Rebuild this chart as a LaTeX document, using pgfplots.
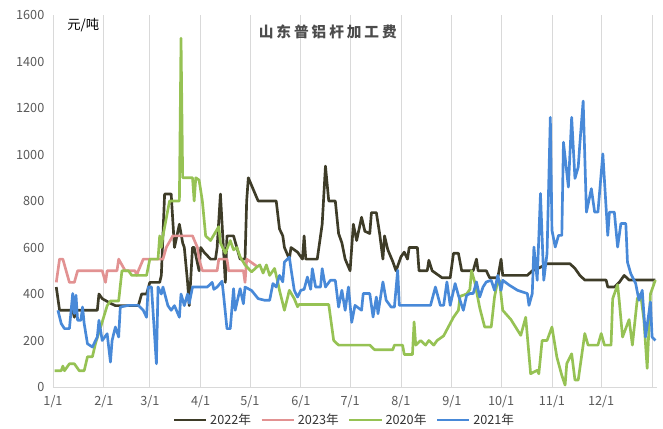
\documentclass[border=0pt]{standalone}
\usepackage{pgfplots}
\pgfplotsset{compat=1.18}
\usepackage{fontspec}
\setmainfont{Noto Sans CJK SC}
\newfontfamily\titlefont[LetterSpace=20]{Noto Sans CJK SC}
\definecolor{c22}{RGB}{62,60,40}
\definecolor{c23}{RGB}{226,146,146}
\definecolor{c20}{RGB}{150,194,84}
\definecolor{c21}{RGB}{72,137,216}
\definecolor{tickc}{RGB}{89,89,89}
\definecolor{gridc}{RGB}{217,217,217}
\begin{document}
\begin{tikzpicture}
\begin{axis}[
  at={(0,0)}, anchor=south west,
  scale only axis, width=453pt, height=279pt,
  xmin=0, xmax=368, ymin=0, ymax=1600,
  xtick={0,31,59,90,120,151,181,212,243,273,304,334},
  xticklabels={1/1,2/1,3/1,4/1,5/1,6/1,7/1,8/1,9/1,10/1,11/1,12/1},
  extra x ticks={365}, extra x tick labels={},
  extra x tick style={grid=major},
  ytick={0,200,...,1600},
  /pgf/number format/assume math mode=true,
  /pgf/number format/1000 sep={},
  xmajorgrids, major grid style={draw=gridc, line width=0.6pt},
  axis x line*=bottom, axis y line*=left,
  axis line style={-, draw=gridc, line width=0.6pt},
  tick style={draw=none},
  ticklabel style={font=\fontsize{9.5}{11}\selectfont, text=tickc},
  yticklabel style={xshift=-3pt},
  xticklabel style={yshift=-3pt},
  legend columns=4,
  legend style={at={(rel axis cs:0.483,-0.089)}, anchor=center, draw=none, fill=none,
    font=\fontsize{9.5}{11}\selectfont, text=black!80,
    /tikz/every even column/.append style={column sep=5pt}},
  legend image code/.code={\draw[#1, line width=2pt] (0cm,0cm) -- (0.85cm,0cm);},
  every axis plot/.append style={line width=2pt, line join=round},
  clip=false,
]
\addplot[c22] coordinates {(2,430)(4,330)(12,330)(13,300)(14,330)(27,330)(28,400)(30,380)(35,360)(38,350)(52,350)(54,400)(57,400)(59,450)(65,450)(66,480)(68,830)(72,830)(74,600)(77,700)(79,620)(80,600)(82,450)(83,350)(85,600)(86,600)(89,500)(90,600)(92,580)(96,550)(99,550)(100,600)(102,830)(105,450)(106,650)(110,650)(114,550)(117,550)(118,800)(119,900)(125,800)(136,800)(138,680)(140,650)(141,600)(144,550)(145,600)(149,580)(152,550)(153,650)(154,550)(161,550)(164,700)(166,950)(168,800)(172,800)(174,660)(176,620)(178,550)(181,500)(183,700)(185,630)(188,730)(190,670)(193,660)(194,750)(197,750)(199,660)(201,550)(202,650)(204,590)(207,540)(209,500)(212,560)(214,580)(216,550)(217,600)(222,600)(223,500)(228,500)(229,545)(231,500)(237,470)(242,470)(244,575)(247,575)(249,500)(256,500)(258,550)(259,500)(264,500)(266,470)(271,470)(273,550)(274,480)(289,480)(292,500)(297,515)(301,530)(315,530)(318,510)(321,480)(324,460)(337,460)(338,430)(342,430)(345,450)(348,480)(351,460)(367,460)};
\addlegendentry{2022年}
\addplot[c23] coordinates {(2,450)(4,550)(6,550)(8,500)(10,450)(13,450)(15,500)(30,500)(32,450)(33,500)(39,500)(40,550)(44,500)(50,500)(51,480)(52,500)(55,550)(67,550)(69,600)(73,650)(85,650)(88,600)(89,550)(91,500)(100,500)(101,550)(106,550)(107,500)(116,500)(117,450)(118,550)(124,520)};
\addlegendentry{2023年}
\addplot[c20] coordinates {(1,70)(5,70)(6,90)(7,70)(10,100)(13,100)(16,70)(19,70)(21,130)(24,130)(26,190)(30,280)(33,350)(35,370)(40,370)(42,500)(46,500)(48,480)(57,480)(59,550)(64,550)(65,650)(66,600)(67,650)(71,800)(77,800)(78,1500)(79,900)(85,900)(86,800)(87,900)(89,890)(91,800)(93,650)(96,630)(101,690)(102,620)(105,575)(108,630)(110,590)(112,600)(114,560)(117,525)(121,495)(124,515)(126,525)(128,490)(130,525)(132,480)(135,510)(137,450)(138,416)(141,330)(144,416)(147,380)(149,345)(150,355)(168,355)(171,200)(174,180)(193,180)(196,160)(207,160)(208,180)(213,180)(214,140)(219,140)(220,280)(221,180)(224,200)(227,180)(229,200)(232,180)(234,200)(238,220)(244,300)(247,330)(248,390)(252,400)(254,420)(255,500)(257,450)(260,340)(263,258)(267,258)(269,387)(271,459)(272,459)(274,330)(279,290)(285,222)(288,300)(291,57)(295,72)(296,57)(298,200)(301,200)(304,258)(307,128)(310,50)(312,8)(313,100)(316,143)(318,30)(320,30)(324,230)(326,180)(332,180)(334,230)(336,180)(340,180)(341,380)(344,440)(345,370)(347,215)(351,290)(353,180)(356,380)(358,400)(360,290)(362,80)(364,400)(367,460)};
\addlegendentry{2020年}
\addplot[c21] coordinates {(3,330)(5,273)(7,251)(10,251)(12,402)(13,316)(14,395)(15,287)(17,287)(18,344)(19,273)(21,186)(24,172)(27,215)(28,287)(30,200)(33,229)(35,107)(36,200)(38,258)(40,215)(41,344)(46,351)(52,351)(55,330)(57,300)(58,430)(60,430)(63,100)(64,430)(66,400)(67,430)(70,350)(72,330)(74,350)(77,300)(78,400)(80,350)(82,400)(83,360)(85,430)(94,430)(97,450)(98,420)(100,430)(103,455)(104,390)(106,251)(108,251)(110,423)(111,330)(114,423)(116,358)(117,430)(121,415)(125,380)(129,373)(132,373)(134,445)(136,430)(138,480)(140,452)(141,537)(144,559)(145,509)(147,416)(149,387)(151,416)(153,420)(155,473)(157,420)(158,509)(160,430)(163,430)(164,509)(166,430)(169,459)(172,459)(174,344)(176,416)(178,330)(180,430)(182,278)(184,351)(188,330)(189,402)(193,402)(195,301)(197,387)(198,315)(201,452)(203,373)(206,344)(208,344)(210,502)(211,351)(230,351)(233,430)(236,351)(238,351)(240,452)(242,351)(245,445)(247,394)(250,330)(252,394)(254,402)(256,402)(258,452)(260,387)(262,430)(264,452)(267,459)(269,416)(271,480)(273,416)(274,459)(278,438)(283,416)(289,402)(290,351)(292,402)(293,602)(295,459)(297,832)(299,459)(301,574)(303,1160)(304,674)(306,602)(308,652)(310,652)(311,1053)(314,860)(316,1160)(318,897)(320,946)(321,1047)(323,1230)(325,752)(328,853)(330,752)(332,752)(335,1003)(338,652)(339,752)(342,752)(344,602)(346,703)(349,703)(350,537)(352,488)(355,445)(357,373)(359,416)(361,215)(364,366)(365,215)(367,200)};
\addlegendentry{2021年}
\node[font=\titlefont\fontsize{11}{13}\selectfont\bfseries, text=black!70] at (rel axis cs:0.455,0.954) {山东普铝杆加工费};
\node[font=\fontsize{10}{12}\selectfont, text=black] at (rel axis cs:0.05,0.973) {元/吨};
\end{axis}
\pgfresetboundingbox
\path[use as bounding box] (-39.75pt,-30.75pt) rectangle (457.5pt,290.25pt);
\end{tikzpicture}
\end{document}
